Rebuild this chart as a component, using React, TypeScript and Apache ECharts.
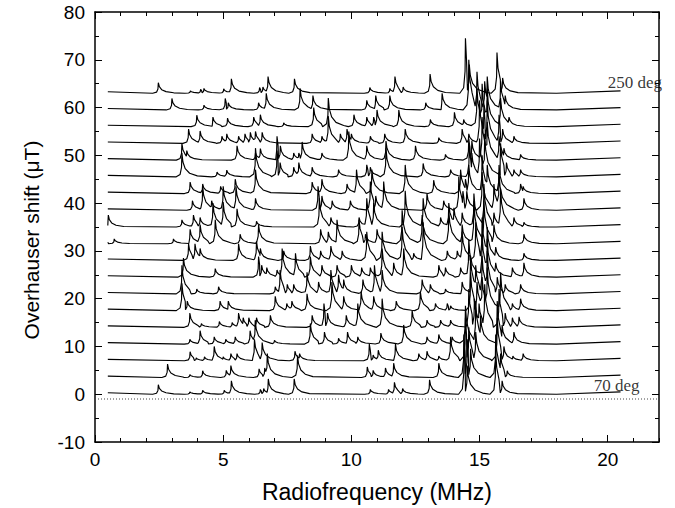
import React, { useEffect, useRef } from "react";
import * as echarts from "echarts";

// ---- data ----
const ANGLES = [70, 80, 90, 100, 110, 120, 130, 140, 150, 160, 170, 180, 190, 200, 210, 220, 230, 240, 250];
const OFFSET_STEP = 3.5; // vertical offset between successive traces (µT)
const FREQ_START = 0.5;
const FREQ_END = 20.5;
const ZERO_LINE = -1;

// peaks per trace: [frequency MHz, peak height µT]
const peaks070 = [[2.47, 2], [3.7, 0.5], [4.2, 0.8], [5.04, 0.8], [5.32, 2.8], [6.45, 1], [6.58, 1.2], [6.76, 3.2], [7.77, 3.2], [10.74, 1], [11.45, 1], [11.68, 2.5], [12.0, 1.2], [13.05, 3], [14.4, 11], [14.52, 6], [15.63, 9], [15.88, 2.8]];
const peaks080 = [[2.83, 2.8], [3.7, 0.6], [4.2, 1.4], [5.12, 1.5], [5.3, 2.5], [6.4, 1.8], [6.62, 2], [6.72, 5], [7.9, 4.6], [10.62, 2.2], [10.85, 1.5], [11.33, 2], [11.65, 3], [13.41, 3], [14.39, 9], [14.52, 8], [14.65, 6], [15.63, 9], [15.82, 5], [16.08, 1.4]];
const peaks090 = [[3.71, 1.9], [3.95, 0.6], [4.27, 0.8], [4.65, 3], [5.0, 0.8], [5.3, 1.5], [5.54, 1.5], [6.22, 4.5], [6.52, 3.8], [7.8, 2], [7.98, 1.5], [10.7, 3.5], [10.85, 1.2], [11.05, 2.2], [11.72, 3.5], [12.63, 1.5], [12.95, 2], [13.41, 1], [13.87, 5], [14.45, 9], [14.58, 7], [14.85, 6], [15.69, 9], [15.95, 3], [16.3, 1], [16.7, 1.5]];
const peaks100 = [[3.7, 1], [4.1, 2.8], [4.65, 1.5], [5.1, 1], [5.47, 1.5], [6.05, 2.8], [6.25, 5], [7.0, 0.8], [8.4, 4.3], [8.95, 2.5], [9.5, 1.2], [9.85, 2.5], [10.25, 1.5], [11.15, 2.3], [12.04, 4], [12.95, 1.5], [13.41, 2], [13.93, 1.5], [14.45, 8], [14.85, 9], [15.04, 6], [15.69, 9], [15.88, 4], [16.34, 2.5]];
const peaks110 = [[3.7, 3], [4.15, 0.8], [4.85, 1.2], [5.35, 1], [5.6, 3], [5.78, 2], [6.0, 2], [6.3, 2], [6.84, 2.5], [8.47, 2.5], [8.93, 5], [9.07, 3], [9.8, 2.5], [10.25, 5], [11.2, 6], [12.37, 3.5], [12.95, 1.5], [13.48, 1.5], [13.87, 1.5], [14.58, 8], [14.8, 6], [14.98, 5], [15.2, 9], [15.76, 8], [16.0, 3], [16.28, 2], [16.54, 2.2]];
const peaks120 = [[3.39, 5.7], [3.6, 2], [4.88, 2], [5.2, 2], [7.03, 3], [7.48, 1.5], [7.68, 2], [8.27, 3.5], [9.24, 6], [9.7, 3], [10.38, 4], [10.87, 3], [11.75, 2], [12.69, 4], [13.28, 1.5], [13.74, 1.5], [13.87, 1], [14.65, 8], [14.9, 6], [15.1, 7], [15.3, 9], [15.82, 8], [16.28, 1.5], [16.6, 2.5]];
const peaks130 = [[3.39, 6], [3.97, 1], [4.82, 1.5], [7.03, 1.5], [7.22, 5], [7.5, 2], [7.75, 2], [8.27, 4.5], [8.72, 2.5], [9.2, 5], [9.5, 4], [9.7, 3], [10.45, 3], [10.9, 6], [11.2, 5], [12.76, 3], [13.08, 2], [13.67, 1], [14.32, 2.5], [14.65, 8], [14.85, 6], [15.1, 8], [15.3, 9], [15.69, 3.5], [16.0, 2], [16.6, 2]];
const peaks140 = [[3.45, 4], [4.69, 1.8], [6.38, 4.3], [6.5, 2.5], [6.7, 2], [7.1, 1.5], [7.3, 6], [7.82, 5], [8.4, 4.3], [8.85, 2.5], [9.44, 2.5], [10.0, 2.5], [10.4, 2], [10.74, 2], [11.2, 6], [11.65, 3], [12.04, 6], [13.41, 2.5], [13.67, 2], [14.26, 2], [14.58, 8], [15.1, 9], [15.3, 8], [15.63, 3], [16.28, 2], [16.73, 3]];
const peaks150 = [[3.65, 3.5], [3.9, 3.5], [4.1, 2.5], [5.6, 3.5], [6.3, 4], [6.45, 2.5], [7.36, 2], [8.4, 3], [8.8, 2], [9.2, 3], [9.64, 2], [10.6, 6], [11.2, 6], [11.98, 7], [12.43, 1.5], [12.8, 8], [13.74, 2], [14.13, 2], [14.32, 6], [14.85, 8], [15.1, 9], [15.3, 7], [15.63, 2.8], [16.73, 1.5]];
const peaks160 = [[0.75, 1], [3.06, 1], [3.71, 3], [4.1, 4], [4.69, 5], [5.66, 2], [6.38, 4], [8.8, 3], [9.1, 2.5], [9.44, 5], [10.3, 5], [10.55, 2], [11.0, 3], [11.98, 7], [12.76, 6], [13.8, 7], [14.32, 4], [14.78, 9], [15.17, 9], [15.56, 4], [16.73, 2]];
const peaks170 = [[0.52, 2.5], [3.39, 1.5], [3.84, 2.5], [4.1, 2], [4.6, 5], [5.0, 5.2], [5.54, 3.8], [6.3, 1.2], [8.75, 6], [9.2, 2], [10.3, 2], [10.6, 6], [10.87, 5], [12.1, 7.6], [12.8, 6], [13.48, 2], [13.8, 5], [14.0, 4], [14.32, 3], [14.78, 7], [15.17, 9], [15.56, 3], [15.82, 8], [16.34, 2], [16.73, 1]];
const peaks180 = [[3.8, 2], [4.2, 5], [4.55, 2], [5.0, 5], [5.5, 5], [6.26, 2.5], [8.7, 5], [8.85, 3], [9.25, 2], [9.96, 2], [10.74, 6], [10.95, 3], [11.26, 6], [12.95, 3.5], [13.6, 2], [14.19, 7], [14.35, 4], [14.5, 4], [15.1, 8], [15.56, 5.5], [15.76, 8], [16.73, 2.5]];
const peaks190 = [[3.71, 2.4], [4.2, 2], [4.9, 1.5], [5.47, 3], [6.26, 5], [8.47, 2.4], [8.85, 3], [9.83, 2], [10.2, 5], [10.8, 5], [12.1, 6], [13.21, 2.8], [14.26, 5], [14.45, 3], [14.58, 6], [15.1, 8], [15.3, 6], [15.76, 6], [16.6, 2], [16.7, 1.5]];
const peaks200 = [[3.39, 5], [4.76, 1], [5.14, 1.4], [6.26, 6], [7.1, 5.5], [7.22, 3], [7.75, 2], [7.95, 3], [8.47, 2], [9.5, 1.5], [10.6, 2.5], [10.74, 2], [11.35, 6], [12.8, 2.8], [13.87, 1.5], [14.6, 7], [14.7, 5], [15.0, 8], [15.2, 9], [15.82, 7], [16.05, 3], [16.34, 1.5], [16.6, 1.5]];
const peaks210 = [[3.39, 3.5], [3.58, 2], [5.54, 3], [6.26, 1.5], [6.45, 2.4], [7.1, 5], [7.23, 3], [7.75, 1.5], [7.95, 1.5], [8.08, 3.8], [8.85, 1.5], [9.9, 6], [10.6, 3], [11.35, 4], [12.5, 3], [13.67, 1.2], [14.58, 4.5], [14.7, 4], [15.1, 9], [15.3, 8], [15.76, 5], [15.95, 2.5], [16.6, 1.2]];
const peaks220 = [[3.65, 3], [4.1, 2.6], [4.95, 1.5], [5.14, 2], [5.6, 1.5], [5.85, 2], [6.06, 2.3], [6.26, 2.5], [6.52, 2.3], [8.47, 2], [8.85, 1.5], [9.1, 5.7], [9.57, 2], [9.83, 3], [10.0, 2], [10.74, 1.5], [11.3, 2], [12.1, 3], [13.41, 1.2], [14.32, 3], [14.58, 2], [15.0, 9], [15.17, 8], [15.3, 9], [15.76, 6], [15.9, 3], [16.34, 1.5]];
const peaks230 = [[3.97, 2.4], [4.6, 2], [5.17, 1.8], [6.19, 2], [6.45, 2.5], [7.36, 0.8], [8.53, 4], [9.1, 6], [10.1, 2.5], [10.6, 2], [10.87, 2], [11.0, 3.5], [11.85, 3.5], [13.08, 1.5], [14.02, 3], [14.38, 1.5], [14.9, 8], [15.1, 9], [15.3, 8], [15.82, 6], [16.15, 2]];
const peaks240 = [[3.0, 2.4], [4.25, 1], [5.08, 2.4], [5.2, 1.5], [6.38, 1.5], [6.68, 3.5], [8.0, 4.5], [8.5, 3], [10.6, 2], [10.95, 3], [11.5, 3], [12.9, 1.5], [13.54, 3.5], [14.58, 10.5], [14.9, 8], [15.2, 6], [15.3, 7], [15.82, 6], [16.0, 3]];
const peaks250 = [[2.47, 2.2], [3.72, 0.5], [4.12, 0.8], [4.25, 1], [5.02, 0.9], [5.32, 3], [6.42, 1.2], [6.55, 1.3], [6.75, 3.5], [7.78, 3], [10.72, 1.2], [11.5, 1], [11.7, 3.5], [12.02, 1.3], [13.07, 4], [14.45, 11.5], [14.6, 6], [15.68, 8.5], [15.9, 3.2]];

const PEAK_LISTS = [peaks070, peaks080, peaks090, peaks100, peaks110, peaks120, peaks130, peaks140, peaks150, peaks160, peaks170, peaks180, peaks190, peaks200, peaks210, peaks220, peaks230, peaks240, peaks250];

const LABEL_NAMES = ["250 deg", "70 deg"];
const LABEL_POS = [[20.0, 65.3], [19.45, 1.9]];

const X_TICKS = { min: 0, max: 22, major: 5, minor: 1 };
const Y_TICKS = { min: -10, max: 80, major: 10 };

// drawing shape of a single resonance line: [offset MHz, fraction of height]
const PEAK_SHAPE = [[-0.22, 0], [-0.07, 0.1], [-0.015, 0.4], [0, 1], [0.04, 0.62], [0.13, 0.34], [0.3, 0.15], [0.6, 0.04]];

function buildTrace(peaks: number[][], base: number): number[][] {
  const pts: number[][] = [[FREQ_START, base + 0.3]];
  let lastX = FREQ_START;
  const sorted = [...peaks].sort((a, b) => a[0] - b[0]);
  sorted.forEach(([x, h], k) => {
    const limit = k < sorted.length - 1 ? sorted[k + 1][0] - 0.02 : FREQ_END;
    for (const [dx, f] of PEAK_SHAPE) {
      const px = x + dx;
      if (px <= lastX + 0.004 || px >= limit) continue;
      pts.push([px, base + f * h]);
      lastX = px;
    }
  });
  if (lastX < 18) pts.push([18, base]);
  pts.push([FREQ_END, base + 0.5]);
  return pts;
}

export default function App() {
  const ref = useRef<HTMLDivElement>(null);
  useEffect(() => {
    document.body.style.margin = "0";
    if (!ref.current) return;
    const chart = echarts.init(ref.current, undefined, { renderer: "svg" });
    const sans = "Liberation Sans, Arial, Helvetica, sans-serif";
    const serif = "Liberation Serif, Times New Roman, serif";
    const frame = { show: true, onZero: false, lineStyle: { color: "#000", width: 1.5 } };
    const majorTick = { show: true, inside: true, length: 7, lineStyle: { color: "#000", width: 1 } };
    const minorTickAxis = { show: true, inside: true, length: 4, lineStyle: { color: "#000", width: 1 } };

    const traceSeries = PEAK_LISTS.map((peaks, i) => ({
      type: "line",
      name: `${ANGLES[i]} deg`,
      data: buildTrace(peaks, i * OFFSET_STEP),
      showSymbol: false,
      symbol: "none",
      silent: true,
      lineStyle: { color: "#000", width: 1.15 },
      z: 3,
    }));

    chart.setOption({
      animation: false,
      backgroundColor: "#fff",
      grid: { left: 95, right: 16, top: 12, bottom: 64 },
      xAxis: [
        {
          type: "value", position: "bottom", min: X_TICKS.min, max: X_TICKS.max, interval: X_TICKS.major,
          axisLine: frame, axisTick: majorTick, splitLine: { show: false },
          axisLabel: { color: "#000", fontSize: 19, fontFamily: sans, margin: 8, showMaxLabel: false },
          name: "Radiofrequency (MHz)", nameLocation: "middle", nameGap: 38,
          nameTextStyle: { color: "#000", fontSize: 23, fontFamily: sans },
        },
        {
          type: "value", position: "top", min: X_TICKS.min, max: X_TICKS.max, interval: X_TICKS.major,
          axisLine: frame, axisTick: majorTick, splitLine: { show: false }, axisLabel: { show: false },
        },
        {
          type: "value", position: "bottom", min: X_TICKS.min, max: X_TICKS.max, interval: X_TICKS.minor,
          axisLine: { show: false, onZero: false }, axisTick: minorTickAxis, splitLine: { show: false }, axisLabel: { show: false },
        },
        {
          type: "value", position: "top", min: X_TICKS.min, max: X_TICKS.max, interval: X_TICKS.minor,
          axisLine: { show: false, onZero: false }, axisTick: minorTickAxis, splitLine: { show: false }, axisLabel: { show: false },
        },
      ],
      yAxis: [
        {
          type: "value", position: "left", min: Y_TICKS.min, max: Y_TICKS.max, interval: Y_TICKS.major,
          axisLine: frame, axisTick: majorTick, splitLine: { show: false },
          minorTick: { show: true, splitNumber: 2, length: 4, lineStyle: { color: "#000" } },
          axisLabel: { color: "#000", fontSize: 19, fontFamily: sans, margin: 10 },
          name: "Overhauser shift (\u03bcT)", nameLocation: "middle", nameGap: 53,
          nameTextStyle: { color: "#000", fontSize: 21, fontFamily: sans, padding: [0, 26, 0, 0] },
        },
        {
          type: "value", position: "right", min: Y_TICKS.min, max: Y_TICKS.max, interval: Y_TICKS.major,
          axisLine: frame, axisTick: majorTick, splitLine: { show: false },
          minorTick: { show: true, splitNumber: 2, length: 4, lineStyle: { color: "#000" } },
          axisLabel: { show: false },
        },
      ],
      series: [
        {
          type: "line",
          data: [[X_TICKS.min, ZERO_LINE], [X_TICKS.max, ZERO_LINE]],
          showSymbol: false, symbol: "none", silent: true,
          lineStyle: { color: "#444", width: 1, type: [1, 2] },
          z: 2,
        },
        ...traceSeries,
        {
          type: "scatter",
          symbolSize: 0,
          silent: true,
          data: LABEL_NAMES.map((n, i) => ({ name: n, value: LABEL_POS[i] })),
          label: {
            show: true, formatter: "{b}", position: [0, 0], align: "left", verticalAlign: "middle",
            color: "#000", fontSize: 17, fontFamily: serif,
          },
          z: 5,
        },
      ],
    });
    return () => chart.dispose();
  }, []);
  return <div ref={ref} style={{ position: "absolute", left: 0, top: 0, width: 675, height: 508 }} />;
}
